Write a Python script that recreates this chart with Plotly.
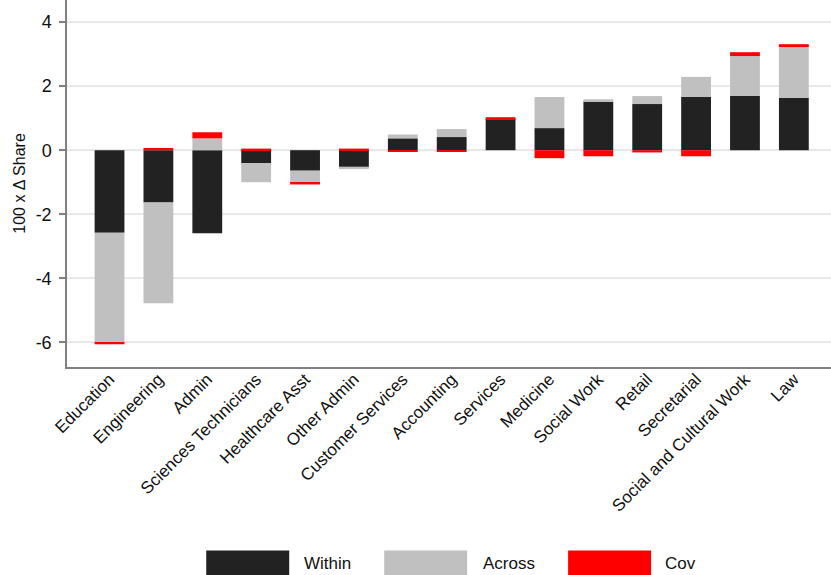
import plotly.graph_objects as go

# Occupations, ordered by total change in share
occupations = [
    "Education", "Engineering", "Admin", "Sciences Technicians", "Healthcare Asst",
    "Other Admin", "Customer Services", "Accounting", "Services", "Medicine",
    "Social Work", "Retail", "Secretarial", "Social and Cultural Work", "Law",
]

# Decomposition of 100 x change in share
within = [-2.58, -1.63, -2.59, -0.40, -0.64, -0.52, 0.37, 0.41, 0.97, 0.69,
          1.53, 1.44, 1.66, 1.69, 1.63]
across = [-3.42, -3.15, 0.37, -0.60, -0.37, -0.07, 0.12, 0.25, -0.02, 0.97,
          0.06, 0.25, 0.63, 1.25, 1.59]
cov = [-0.06, 0.07, 0.19, 0.05, -0.06, 0.05, -0.05, -0.05, 0.06, -0.25,
       -0.19, -0.07, -0.19, 0.12, 0.09]

y_ticks = [-6, -4, -2, 0, 2, 4]

series = [("Within", within, "#222222"),
          ("Across", across, "#c0c0c0"),
          ("Cov", cov, "#ff0000")]

FONT = "Liberation Sans, Arial, Helvetica, sans-serif"
W, H = 831, 575
ML, MB = 66.7, 208.3

fig = go.Figure()
for name, vals, color in series:
    fig.add_trace(go.Bar(
        x=occupations, y=vals, name=name, width=0.61,
        marker=dict(color=color, line=dict(width=0)),
        showlegend=False,
    ))

fig.update_layout(
    width=W, height=H,
    barmode="relative",
    plot_bgcolor="white", paper_bgcolor="white",
    margin=dict(l=ML, r=0, t=0, b=MB),
    font=dict(family=FONT, color="#111111", size=16),
    xaxis=dict(
        range=[-0.87, 14.76],
        tickangle=-45,
        showgrid=False,
        showline=True, linecolor="#808080", linewidth=1.5,
        ticks="",
        ticklabelstandoff=-6,
        tickfont=dict(size=17),
    ),
    yaxis=dict(
        range=[-6.77, 4.69],
        tickvals=y_ticks,
        ticktext=[str(v) for v in y_ticks],
        showgrid=True, gridcolor="#e8e8e8", gridwidth=1.5,
        zeroline=False,
        showline=True, linecolor="#808080", linewidth=1.5,
        ticks="outside", ticklen=6, tickcolor="#808080", tickwidth=1.5,
        ticklabelstandoff=4,
        tickfont=dict(size=18),
        title=dict(text="100 x \u0394 Share", font=dict(size=16), standoff=6),
    ),
)

# Legend row below the axis labels: wide colour keys with labels
plot_w = W - ML
plot_h = H - MB


def px_x(px):
    return (px - ML) / plot_w


def px_y(py):
    return (plot_h - py) / plot_h


legend_items = [("Within", "#222222", 206, 302),
                ("Across", "#c0c0c0", 384, 481),
                ("Cov", "#ff0000", 568, 663)]
for label, color, sx, tx in legend_items:
    fig.add_shape(type="rect", xref="paper", yref="paper",
                  x0=px_x(sx), x1=px_x(sx + 83),
                  y0=px_y(550), y1=px_y(578),
                  fillcolor=color, line=dict(width=0), layer="above")
    fig.add_annotation(xref="paper", yref="paper",
                       x=px_x(tx), y=px_y(563), xanchor="left", yanchor="middle",
                       text=label, showarrow=False, font=dict(size=17))

fig.write_html("out.html")
